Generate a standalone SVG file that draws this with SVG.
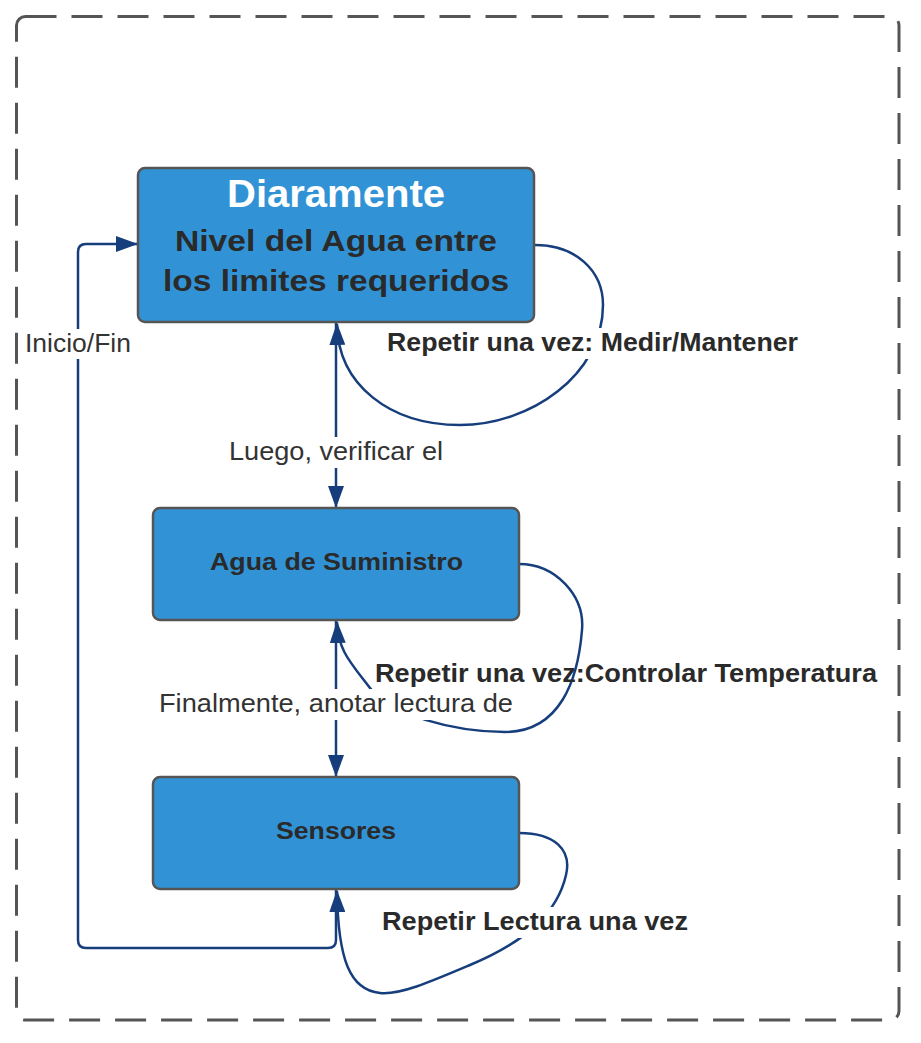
<svg xmlns="http://www.w3.org/2000/svg" width="921" height="1043" viewBox="0 0 921 1043">
  <style>
    .frame { fill: none; stroke: #555555; stroke-width: 3; stroke-dasharray: 31 15; }
    .node { fill: #3193d6; stroke: #555555; stroke-width: 2.5; }
    .conn { fill: none; stroke: #173e7c; stroke-width: 2.5; }
    .bg { fill: #ffffff; }
    .t { font-family: "Liberation Sans", Arial, sans-serif; fill: #2a2a2a; font-weight: bold; }
    .lbl { font-family: "Liberation Sans", Arial, sans-serif; fill: #333333; font-size: 26px; }
    .lblb { font-family: "Liberation Sans", Arial, sans-serif; fill: #2a2a2a; font-size: 25px; font-weight: bold; }
  </style>
  <defs>
    <marker id="arr" viewBox="0 0 22 16" refX="21" refY="8" markerWidth="22" markerHeight="16" markerUnits="userSpaceOnUse" orient="auto">
      <path d="M0,0 L22,8 L0,16 z" fill="#173e7c"/>
    </marker>
  </defs>

  <rect class="frame" x="16.5" y="16.5" width="882.5" height="1003.5" rx="9"/>

  <g id="connectors">
    <path class="conn" d="M336,323 L336,507" marker-end="url(#arr)"/>
    <path class="conn" d="M336,621 L336,776" marker-end="url(#arr)"/>
    <path class="conn" d="M535,245 C575,245 603,270 603,305 C603,375 530,425 460,425 C390,425 338,385 337,324" marker-end="url(#arr)"/>
    <path class="conn" d="M519,564 C555,564 585,595 582,630 C578,680 560,732 505,732 C455,732 390,715 370,688 C350,662 338,650 337,622" marker-end="url(#arr)"/>
    <path class="conn" d="M519,833 C555,833 572,850 566,875 C558,910 530,940 470,965 C430,982 400,995 380,993 C350,990 338,960 337,891" marker-end="url(#arr)"/>
    <path class="conn" d="M336,890 L336,940 Q336,948 328,948 L86,948 Q78,948 78,940 L78,252 Q78,244 86,244 L137,244" marker-end="url(#arr)"/>

    <rect class="bg" x="22" y="329" width="112" height="30"/>
    <text class="lbl" x="25" y="352" textLength="106" lengthAdjust="spacingAndGlyphs">Inicio/Fin</text>

    <rect class="bg" x="383" y="328" width="418" height="31"/>
    <text class="lblb" x="387" y="351" textLength="411" lengthAdjust="spacingAndGlyphs">Repetir una vez: Medir/Mantener</text>

    <rect class="bg" x="225" y="437" width="222" height="31"/>
    <text class="lbl" x="229" y="460" textLength="214" lengthAdjust="spacingAndGlyphs">Luego, verificar el</text>

    <text class="lblb" x="375" y="682" textLength="502" lengthAdjust="spacingAndGlyphs">Repetir una vez:Controlar Temperatura</text>

    <rect class="bg" x="155" y="689" width="362" height="31"/>
    <text class="lbl" x="159" y="712" textLength="354" lengthAdjust="spacingAndGlyphs">Finalmente, anotar lectura de</text>

    <rect class="bg" x="378" y="907" width="314" height="31"/>
    <text class="lblb" x="382" y="930" textLength="306" lengthAdjust="spacingAndGlyphs">Repetir Lectura una vez</text>
  </g>

  <g id="node-diaramente">
    <rect class="node" x="138" y="168" width="396" height="154" rx="7"/>
    <text class="t" x="227" y="207" font-size="38" style="fill:#ffffff" textLength="218" lengthAdjust="spacingAndGlyphs">Diaramente</text>
    <text class="t" x="175" y="251" font-size="30" textLength="322" lengthAdjust="spacingAndGlyphs">Nivel del Agua entre</text>
    <text class="t" x="163" y="291" font-size="30" textLength="346" lengthAdjust="spacingAndGlyphs">los limites requeridos</text>
  </g>

  <g id="node-agua">
    <rect class="node" x="153" y="508" width="366" height="112" rx="7"/>
    <text class="t" x="210" y="570" font-size="24" textLength="253" lengthAdjust="spacingAndGlyphs">Agua de Suministro</text>
  </g>

  <g id="node-sensores">
    <rect class="node" x="153" y="777" width="366" height="112" rx="7"/>
    <text class="t" x="276" y="839" font-size="24" textLength="120" lengthAdjust="spacingAndGlyphs">Sensores</text>
  </g>
</svg>
